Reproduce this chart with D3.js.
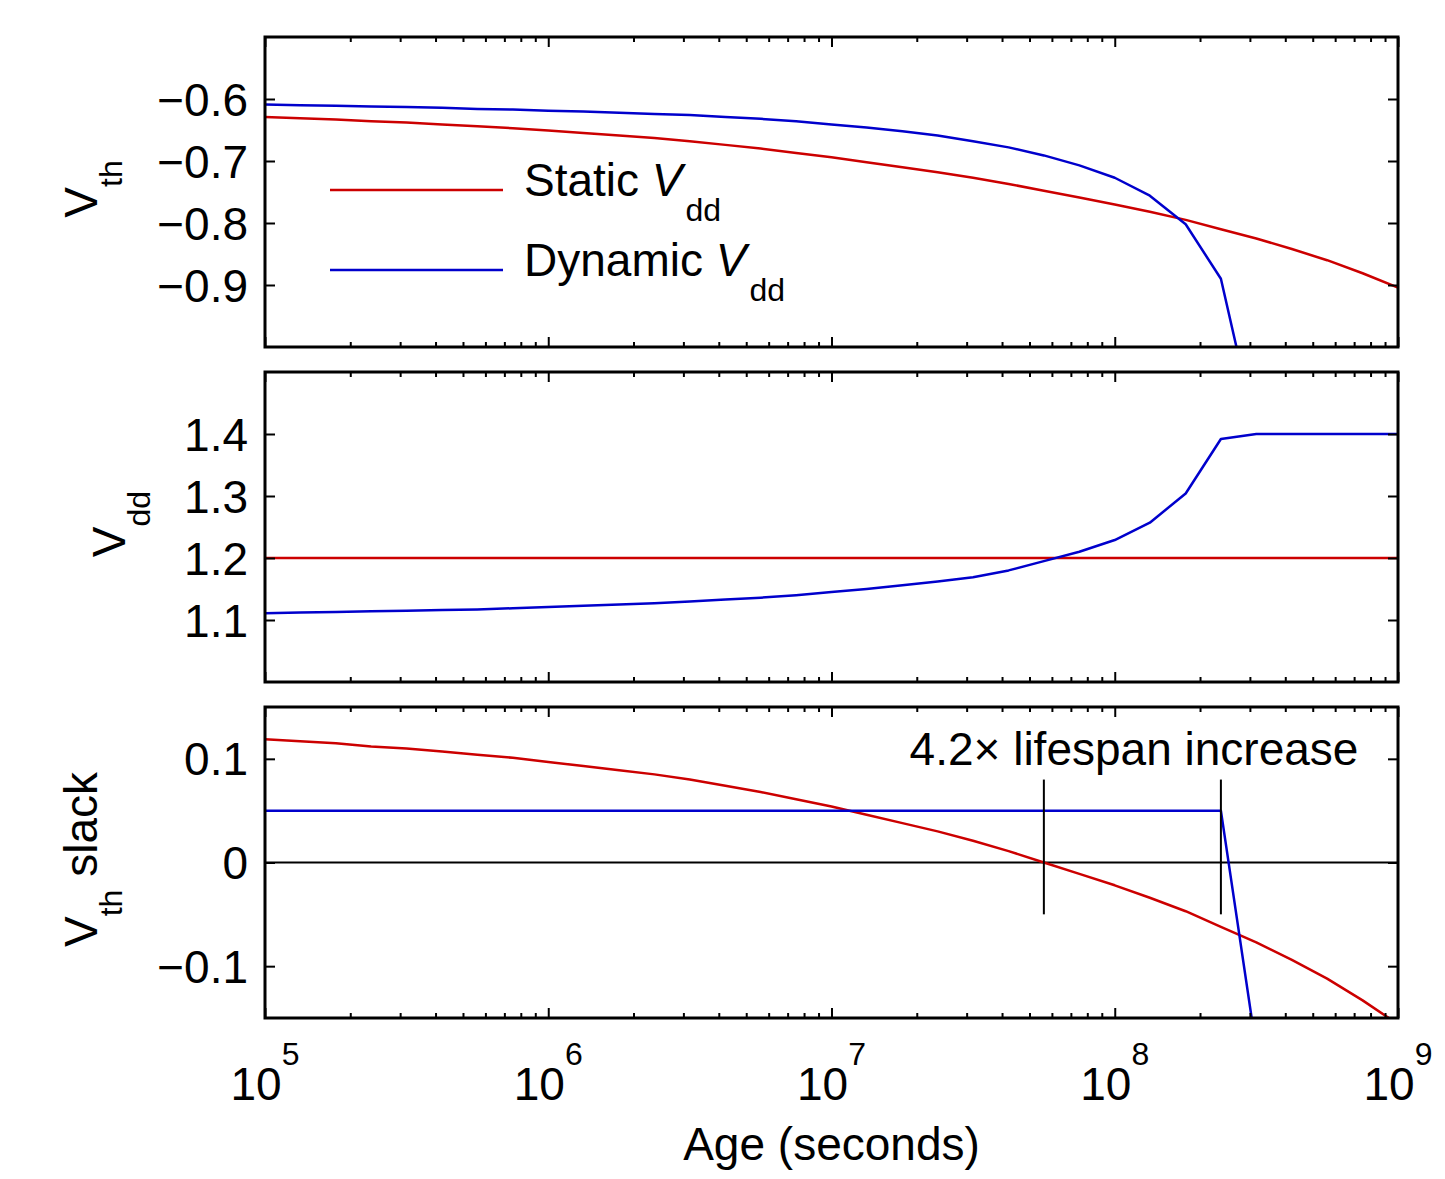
<!DOCTYPE html>
<html>
<head>
<meta charset="utf-8">
<script src="https://cdn.jsdelivr.net/npm/d3@7"></script>
<style>
  body { margin: 0; background: #fff; }
  svg { display: block; }
  text { font-family: "Liberation Sans", Arial, Helvetica, sans-serif; fill: #000; }
</style>
</head>
<body>
<div id="chart"></div>
<script>
// ages (s) at which the simulation was sampled, 8 points per decade
const ages = [
  1e5, 1.33e5, 1.78e5, 2.37e5, 3.16e5, 4.22e5, 5.62e5, 7.50e5,
  1e6, 1.33e6, 1.78e6, 2.37e6, 3.16e6, 4.22e6, 5.62e6, 7.50e6,
  1e7, 1.33e7, 1.78e7, 2.37e7, 3.16e7, 4.22e7, 5.62e7, 7.50e7,
  1e8, 1.33e8, 1.78e8, 2.37e8, 3.16e8, 4.22e8, 5.62e8, 7.50e8,
  1e9
];

// top panel: Vth
const staticVth = [
  -0.629, -0.631, -0.633, -0.636, -0.638, -0.641, -0.644, -0.647,
  -0.651, -0.655, -0.659, -0.663, -0.668, -0.674, -0.680, -0.687,
  -0.694, -0.702, -0.710, -0.718, -0.727, -0.737, -0.748, -0.759,
  -0.770, -0.782, -0.795, -0.810, -0.825, -0.842, -0.860, -0.881,
  -0.904
];
const dynamicVth = [
  -0.609, -0.610, -0.611, -0.612, -0.613, -0.614, -0.616, -0.617,
  -0.619, -0.620, -0.622, -0.624, -0.626, -0.629, -0.632, -0.636,
  -0.641, -0.646, -0.652, -0.659, -0.668, -0.678, -0.691, -0.707,
  -0.727, -0.756, -0.802, -0.890, -1.140
];

// middle panel: Vdd
const staticVdd = [
  1.2, 1.2, 1.2, 1.2, 1.2, 1.2, 1.2, 1.2,
  1.2, 1.2, 1.2, 1.2, 1.2, 1.2, 1.2, 1.2,
  1.2, 1.2, 1.2, 1.2, 1.2, 1.2, 1.2, 1.2,
  1.2, 1.2, 1.2, 1.2, 1.2, 1.2, 1.2, 1.2,
  1.2
];
const dynamicVdd = [
  1.111, 1.112, 1.113, 1.114, 1.115, 1.116, 1.117, 1.119,
  1.121, 1.123, 1.125, 1.127, 1.130, 1.133, 1.136, 1.140,
  1.145, 1.150, 1.156, 1.162, 1.169, 1.180, 1.195, 1.210,
  1.229, 1.257, 1.304, 1.392, 1.400, 1.400, 1.400, 1.400,
  1.400
];

// bottom panel: Vth slack
const staticSlack = [
  0.119, 0.117, 0.115, 0.112, 0.110, 0.107, 0.104, 0.101,
  0.097, 0.093, 0.089, 0.085, 0.080, 0.074, 0.068, 0.061,
  0.054, 0.046, 0.038, 0.030, 0.021, 0.011, 0.000, -0.011,
  -0.022, -0.034, -0.047, -0.062, -0.077, -0.094, -0.112, -0.133,
  -0.156
];
const dynamicSlack = [
  0.05, 0.05, 0.05, 0.05, 0.05, 0.05, 0.05, 0.05,
  0.05, 0.05, 0.05, 0.05, 0.05, 0.05, 0.05, 0.05,
  0.05, 0.05, 0.05, 0.05, 0.05, 0.05, 0.05, 0.05,
  0.05, 0.05, 0.05, 0.05, -0.18
];

// end of life markers (slack hits zero / dynamic stops)
const markerAges = [5.62e7, 2.37e8];
const markerRange = [-0.05, 0.08];
const annotation = '4.2\u00d7 lifespan increase';

// tick values / labels
const xTickExps = [5, 6, 7, 8, 9];
const vthTicks = [-0.9, -0.8, -0.7, -0.6];
const vthLabels = ['\u22120.9', '\u22120.8', '\u22120.7', '\u22120.6'];
const vddTicks = [1.1, 1.2, 1.3, 1.4];
const vddLabels = ['1.1', '1.2', '1.3', '1.4'];
const slackTicks = [-0.1, 0, 0.1];
const slackLabels = ['\u22120.1', '0', '0.1'];

const legendNames = ['Static ', 'Dynamic '];

const RED = '#cc0000';
const BLUE = '#0000cc';
const FONT = 46;
const SUB = 32;

const left = 265, right = 1398;

const svg = d3.select('#chart').append('svg')
  .attr('width', 1445)
  .attr('height', 1179);

const x = d3.scaleLog().domain([1e5, 1e9]).range([left, right]);
const majorX = xTickExps.map(e => Math.pow(10, e));
const minorX = x.ticks().filter(v => majorX.indexOf(v) < 0);

const panels = [
  { top: 37, bottom: 347, domain: [-1.0, -0.5], ticks: vthTicks, labels: vthLabels,
    title: ['V', 'th', ''], titleX: 97,
    series: [[staticVth, RED], [dynamicVth, BLUE]] },
  { top: 372, bottom: 682, domain: [1.0, 1.5], ticks: vddTicks, labels: vddLabels,
    title: ['V', 'dd', ''], titleX: 125,
    series: [[staticVdd, RED], [dynamicVdd, BLUE]] },
  { top: 707, bottom: 1018, domain: [-0.15, 0.15], ticks: slackTicks, labels: slackLabels,
    title: ['V', 'th', ' slack'], titleX: 97,
    series: [[staticSlack, RED], [dynamicSlack, BLUE]] }
];

panels.forEach((p, i) => {
  const y = d3.scaleLinear().domain(p.domain).range([p.bottom, p.top]);
  p.y = y;
  const g = svg.append('g');

  g.append('clipPath').attr('id', 'clip' + i)
    .append('rect')
    .attr('x', left).attr('y', p.top)
    .attr('width', right - left).attr('height', p.bottom - p.top);

  const plot = g.append('g').attr('clip-path', 'url(#clip' + i + ')');

  // zero line in the slack panel
  if (i === 2) {
    plot.append('line')
      .attr('x1', left).attr('x2', right)
      .attr('y1', y(0)).attr('y2', y(0))
      .attr('stroke', '#000').attr('stroke-width', 2);
  }

  const line = d3.line()
    .x(d => x(d[0]))
    .y(d => y(d[1]));

  p.series.forEach(s => {
    plot.append('path')
      .datum(d3.zip(ages, s[0]))
      .attr('fill', 'none')
      .attr('stroke', s[1])
      .attr('stroke-width', 2.5)
      .attr('stroke-linejoin', 'round')
      .attr('d', line);
  });

  // x ticks, inward on bottom and top
  const tickAxis = (axisFn, vals, len, pos) => {
    g.append('g')
      .attr('transform', 'translate(0,' + pos + ')')
      .call(axisFn(x).tickValues(vals).tickSize(len).tickFormat(''))
      .call(a => a.select('.domain').remove())
      .call(a => a.selectAll('line').attr('stroke', '#000').attr('stroke-width', 2));
  };
  tickAxis(d3.axisBottom, majorX, -10, p.bottom);
  tickAxis(d3.axisBottom, minorX, -5, p.bottom);
  tickAxis(d3.axisTop, majorX, -10, p.top);
  tickAxis(d3.axisTop, minorX, -5, p.top);

  // y ticks, inward on both sides
  g.append('g')
    .attr('transform', 'translate(' + left + ',0)')
    .call(d3.axisLeft(y).tickValues(p.ticks).tickSize(-10).tickFormat(''))
    .call(a => a.select('.domain').remove())
    .call(a => a.selectAll('line').attr('stroke', '#000').attr('stroke-width', 2));
  g.append('g')
    .attr('transform', 'translate(' + right + ',0)')
    .call(d3.axisRight(y).tickValues(p.ticks).tickSize(-10).tickFormat(''))
    .call(a => a.select('.domain').remove())
    .call(a => a.selectAll('line').attr('stroke', '#000').attr('stroke-width', 2));

  // y tick labels
  g.selectAll('text.ylab')
    .data(p.ticks)
    .join('text')
    .attr('class', 'ylab')
    .attr('x', left - 17)
    .attr('y', d => y(d))
    .attr('dy', '0.36em')
    .attr('text-anchor', 'end')
    .attr('font-size', FONT)
    .text((d, j) => p.labels[j]);

  // frame
  g.append('rect')
    .attr('x', left).attr('y', p.top)
    .attr('width', right - left).attr('height', p.bottom - p.top)
    .attr('fill', 'none')
    .attr('stroke', '#000')
    .attr('stroke-width', 3);

  // y title
  const cy = (p.top + p.bottom) / 2 - 3;
  const t = g.append('text')
    .attr('transform', 'translate(' + p.titleX + ',' + cy + ') rotate(-90)')
    .attr('text-anchor', 'middle')
    .attr('font-size', FONT);
  t.append('tspan').text(p.title[0]);
  t.append('tspan').attr('dy', 25).attr('font-size', SUB).text(p.title[1]);
  if (p.title[2]) t.append('tspan').attr('dy', -25).text(p.title[2]);
});

// legend in the top panel
[[RED, 190], [BLUE, 270]].forEach((l, i) => {
  svg.append('line')
    .attr('x1', 330).attr('x2', 503)
    .attr('y1', l[1]).attr('y2', l[1])
    .attr('stroke', l[0]).attr('stroke-width', 2.5);
  const t = svg.append('text')
    .attr('x', 524).attr('y', l[1] + 6)
    .attr('font-size', FONT);
  t.append('tspan').text(legendNames[i]);
  t.append('tspan').attr('font-style', 'italic').text('V');
  t.append('tspan').attr('dy', 25).attr('dx', 3).attr('font-size', SUB).text('dd');
});

// lifespan markers in the slack panel
const ys = panels[2].y;
svg.selectAll('line.marker')
  .data(markerAges)
  .join('line')
  .attr('class', 'marker')
  .attr('x1', d => x(d)).attr('x2', d => x(d))
  .attr('y1', ys(markerRange[1])).attr('y2', ys(markerRange[0]))
  .attr('stroke', '#000').attr('stroke-width', 2);

svg.append('text')
  .attr('x', 1134).attr('y', 765)
  .attr('text-anchor', 'middle')
  .attr('font-size', FONT)
  .text(annotation);

// x tick labels 10^n
xTickExps.forEach(e => {
  const t = svg.append('text')
    .attr('x', x(Math.pow(10, e)))
    .attr('y', 1100)
    .attr('text-anchor', 'middle')
    .attr('font-size', FONT);
  t.append('tspan').text('10');
  t.append('tspan').attr('dy', -35).attr('font-size', SUB).text(e);
});

svg.append('text')
  .attr('x', (left + right) / 2)
  .attr('y', 1160)
  .attr('text-anchor', 'middle')
  .attr('font-size', FONT)
  .text('Age (seconds)');
</script>
</body>
</html>
